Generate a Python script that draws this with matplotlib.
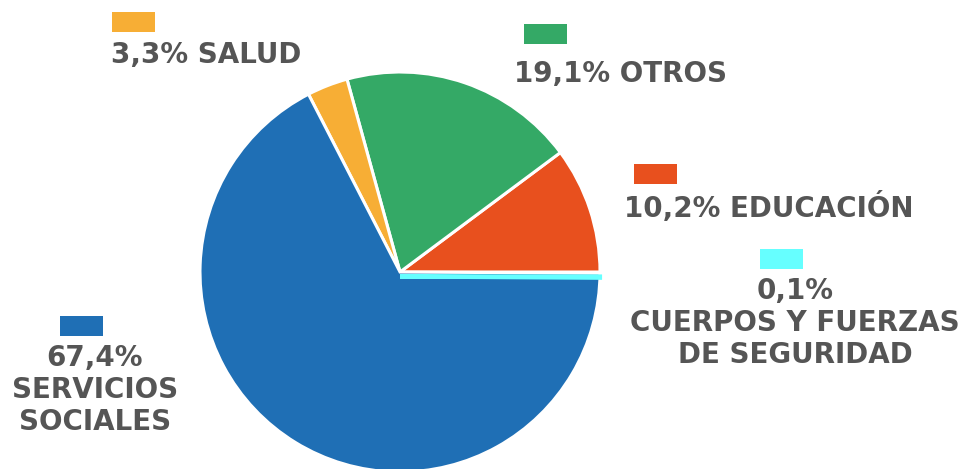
import matplotlib.pyplot as plt

# Datos
categorias = ['EDUCACIÓN', 'OTROS', 'SALUD', 'SERVICIOS SOCIALES', 'CUERPOS Y FUERZAS DE SEGURIDAD']
valores = [10.2, 19.1, 3.3, 67.4, 0.1]
colores = ['#e8501e', '#34a966', '#f7ae35', '#1f6fb5', '#66ffff']
etiquetas = ['10,2% EDUCACIÓN', '19,1% OTROS', '3,3% SALUD',
             '67,4%\nSERVICIOS\nSOCIALES', '0,1%\nCUERPOS Y FUERZAS\nDE SEGURIDAD']

W, H = 960, 469
TXT = '#555555'

fig = plt.figure(figsize=(9.6, 4.69), dpi=100)
ax = fig.add_axes([0, 0, 1, 1])

# Pie en coordenadas de pixel (y hacia arriba)
wedges, _ = ax.pie(valores, colors=colores, startangle=0, counterclock=True,
                   center=(400, H - 272), radius=200,
                   wedgeprops=dict(edgecolor='white', linewidth=2.2))
# la porcion minima se ve como una linea cian, algo por debajo del borde
wedges[-1].set_center((400, H - 276.5))
wedges[-1].set_edgecolor('#66ffff')
wedges[-1].set_linewidth(3)
wedges[-1].set_zorder(3)

ax.set_xlim(0, W)
ax.set_ylim(0, H)
ax.set_aspect('equal')
ax.axis('off')

# Leyendas: (rect x, rect y) y (texto x, texto y, alineacion)
rect_pos = [(634, 164), (524, 24), (112, 12), (60, 316), (760, 249)]
text_pos = [(624, 207, 'left'), (514, 74, 'left'), (111, 55, 'left'),
            (95, 390, 'center'), (795, 323, 'center')]

for i in range(len(valores)):
    rx, ry = rect_pos[i]
    ax.add_patch(plt.Rectangle((rx, H - ry - 20), 43, 20, color=colores[i], lw=0))
    tx, ty, ha = text_pos[i]
    ax.text(tx, H - ty, etiquetas[i], ha=ha, va='center', color=TXT,
            fontsize=20, fontweight='bold', family='DejaVu Sans',
            linespacing=1.2)

fig.savefig('out.png', dpi=100)
